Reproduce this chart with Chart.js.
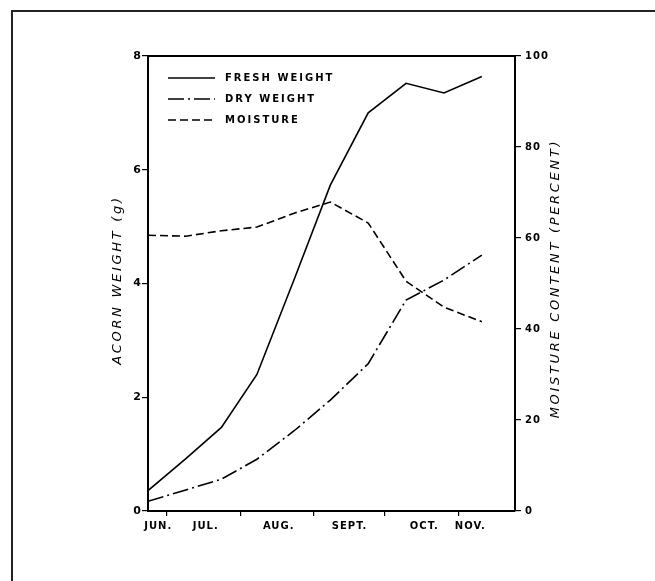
<!DOCTYPE html>
<html>
<head>
<meta charset="utf-8">
<script src="https://cdn.jsdelivr.net/npm/chart.js@4.4.1/dist/chart.umd.min.js"></script>
<style>
    body { margin: 0; background: #fff; }
    #wrap { position: relative; width: 655px; height: 581px; overflow: hidden; }
    #frame { position: absolute; left: 11px; top: 10px; width: 700px; height: 700px;
             border-left: 2px solid #222; border-top: 2px solid #222; }
    canvas { position: absolute; left: 0; top: 0; }
</style>
</head>
<body>
<div id="wrap">
    <div id="frame"></div>
    <canvas id="acornChart" width="655" height="581"></canvas>
</div>
<script>
// days counted from June 1
let sampleDays = [22, 38, 53, 68, 84, 99, 115, 131, 147, 163];
let freshWeight = [0.36, 0.92, 1.47, 2.40, 4.10, 5.73, 7.00, 7.52, 7.35, 7.64];
let dryWeight = [0.17, 0.37, 0.56, 0.91, 1.42, 1.95, 2.59, 3.71, 4.06, 4.50];
let moisture = [60.6, 60.4, 61.6, 62.4, 65.5, 67.9, 63.3, 50.5, 44.8, 41.6];

let monthStarts = [30, 61, 92, 122, 153];
let monthNames = ['JUN.', 'JUL.', 'AUG.', 'SEPT.', 'OCT.', 'NOV.'];
let monthLabelDays = [26.3, 46.4, 77.2, 107.1, 138.7, 158.1];

let legendNames = ['FRESH WEIGHT', 'DRY WEIGHT', 'MOISTURE'];
let leftTitle = 'ACORN WEIGHT (g)';
let rightTitle = 'MOISTURE CONTENT (PERCENT)';

const FONT = 'DejaVu Sans';

function toPoints(values) {
    return values.map((v, i) => ({ x: sampleDays[i], y: v }));
}

// letter spacing like the lettering of the original
const spacingPlugin = {
    id: 'spacing',
    beforeDraw(chart) {
        chart.ctx.letterSpacing = '1px';
    }
};

function drawUpText(ctx, text, x, y) {
    ctx.save();
    ctx.translate(x, y);
    ctx.rotate(-Math.PI / 2);
    ctx.fillText(text, 0, 0);
    ctx.restore();
}

// box round the plot, legend inside, both axis titles read upwards
const extrasPlugin = {
    id: 'extras',
    afterDraw(chart) {
        let ctx = chart.ctx;
        let area = chart.chartArea;
        ctx.save();
        ctx.strokeStyle = '#000';
        ctx.lineWidth = 2;
        ctx.beginPath();
        ctx.moveTo(area.left, area.top);
        ctx.lineTo(area.right, area.top);
        ctx.stroke();

        ctx.font = 'bold 10px "' + FONT + '"';
        ctx.fillStyle = '#000';
        ctx.textBaseline = 'middle';
        ctx.letterSpacing = '2px';
        chart.data.datasets.forEach((ds, i) => {
            let y = area.top + 22 + i * 21;
            ctx.lineWidth = 1.6;
            ctx.setLineDash(ds.borderDash || []);
            ctx.beginPath();
            ctx.moveTo(area.left + 20, y);
            ctx.lineTo(area.left + 67, y);
            ctx.stroke();
            ctx.setLineDash([]);
            ctx.fillText(legendNames[i], area.left + 77, y);
        });

        ctx.font = 'italic 13px "' + FONT + '"';
        ctx.textAlign = 'center';
        ctx.letterSpacing = '2.7px';
        drawUpText(ctx, leftTitle, 118, 280);
        drawUpText(ctx, rightTitle, 556, (area.top + area.bottom) / 2 - 5);
        ctx.restore();
    }
};

let ctx = document.getElementById('acornChart').getContext('2d');
let chart = new Chart(ctx, {
    type: 'line',
    data: {
        datasets: [
            { label: legendNames[0], data: toPoints(freshWeight), yAxisID: 'y', borderDash: [] },
            { label: legendNames[1], data: toPoints(dryWeight), yAxisID: 'y', borderDash: [16, 4, 2, 4] },
            { label: legendNames[2], data: toPoints(moisture), yAxisID: 'y2', borderDash: [8, 4] }
        ].map(ds => Object.assign(ds, {
            borderColor: '#000',
            backgroundColor: '#000',
            borderWidth: 1.6,
            pointRadius: 0,
            tension: 0,
            fill: false
        }))
    },
    options: {
        responsive: false,
        animation: false,
        events: [],
        layout: { padding: { left: 106, right: 100, top: 56, bottom: 45 } },
        plugins: {
            legend: { display: false },
            tooltip: { enabled: false }
        },
        font: { family: FONT },
        scales: {
            x: {
                type: 'linear',
                position: 'bottom',
                min: 22,
                max: 177,
                weight: 0,
                afterBuildTicks: (scale) => { scale.ticks = monthStarts.map(v => ({ value: v })); },
                afterFit: (scale) => { scale.height = 5; },
                grid: { drawOnChartArea: false, drawTicks: true, tickLength: 5, color: '#000', lineWidth: 1.2 },
                border: { display: true, color: '#000', width: 2 },
                ticks: { display: false }
            },
            xl: {
                type: 'linear',
                position: 'bottom',
                min: 22,
                max: 177,
                weight: 1,
                afterBuildTicks: (scale) => { scale.ticks = monthLabelDays.map(v => ({ value: v })); },
                afterFit: (scale) => { scale.height = 20; },
                grid: { display: false, drawTicks: false },
                border: { display: false },
                ticks: {
                    autoSkip: false,
                    maxRotation: 0,
                    padding: 4,
                    color: '#000',
                    font: { family: FONT, size: 10, weight: 'bold' },
                    callback: (value, index) => monthNames[index]
                }
            },
            y: {
                position: 'left',
                min: 0,
                max: 8,
                afterFit: (scale) => { scale.width = 42; },
                grid: { drawOnChartArea: false, drawTicks: true, tickLength: 6, color: '#000', lineWidth: 1.2 },
                border: { display: true, color: '#000', width: 2 },
                ticks: { stepSize: 2, padding: 0, color: '#000', font: { family: FONT, size: 11, weight: 'bold' } }
            },
            y2: {
                position: 'right',
                min: 0,
                max: 100,
                afterFit: (scale) => { scale.width = 40; },
                grid: { drawOnChartArea: false, drawTicks: true, tickLength: 6, color: '#000', lineWidth: 1.2 },
                border: { display: true, color: '#000', width: 2 },
                ticks: { stepSize: 20, padding: 4, color: '#000', font: { family: FONT, size: 10, weight: 'bold' } }
            }
        }
    },
    plugins: [spacingPlugin, extrasPlugin]
});
</script>
</body>
</html>
